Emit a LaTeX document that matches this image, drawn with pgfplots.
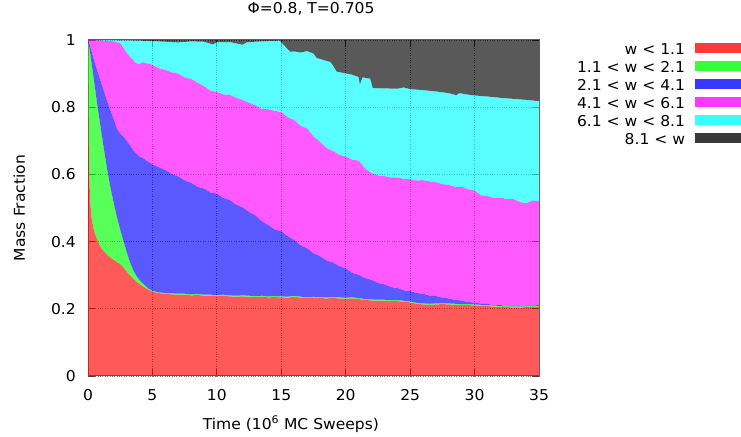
\documentclass[border=0pt]{standalone}
\usepackage{fontspec}
\setmainfont{DejaVu Sans}[FakeStretch=1.04]
\usepackage{pgfplots}
\pgfplotsset{compat=1.18}
\usepackage{pgfplotstable}
\usepgfplotslibrary{fillbetween}
\newcommand\fs{\fontsize{15}{18}\selectfont}
\definecolor{cRed}{RGB}{255,0,0}
\definecolor{cGreen}{RGB}{0,255,0}
\definecolor{cBlue}{RGB}{0,0,255}
\definecolor{cMag}{RGB}{255,0,255}
\definecolor{cCyan}{RGB}{0,255,255}
\definecolor{cGray}{RGB}{0,0,0}
\pgfplotsset{area legend/.style={legend image code/.code={\fill[##1, fill opacity=0.78] (0bp,-4bp) rectangle (46bp,6bp);}}}

% cumulative boundaries (top of each band)
\pgfplotstableread{
t y
0 1.000
0.03 0.80
0.06 0.68
0.1 0.60
0.15 0.54
0.2 0.505
0.3 0.465
0.4 0.445
0.5 0.428
0.75 0.402
1 0.382
1.25 0.370
1.5 0.360
1.75 0.352
2 0.346
2.25 0.339
2.5 0.333
2.75 0.323
3 0.311
3.25 0.300
3.5 0.290
3.75 0.281
4 0.273
4.25 0.267
4.5 0.261
4.75 0.256
5 0.251
5.5 0.247
6 0.244
6.5 0.243
7 0.242
7.5 0.242
8 0.240
8.5 0.241
9 0.239
9.5 0.239
10 0.238
10.5 0.239
11 0.237
11.5 0.236
12 0.237
12.5 0.236
13 0.235
13.5 0.236
14 0.234
14.5 0.235
15 0.234
15.5 0.233
16 0.236
16.5 0.233
17 0.232
17.5 0.233
18 0.232
18.5 0.231
19 0.232
19.5 0.231
20 0.230
20.5 0.231
21 0.229
21.5 0.226
22 0.225
22.5 0.224
23 0.224
23.5 0.223
24 0.223
24.5 0.221
25 0.219
25.5 0.215
26 0.213
26.5 0.212
27 0.213
27.5 0.214
28 0.213
28.5 0.212
29 0.211
29.5 0.211
30 0.210
30.5 0.209
31 0.208
31.5 0.207
32 0.205
32.5 0.205
33 0.204
33.5 0.204
34 0.205
34.5 0.205
35 0.206
}\Bone

\pgfplotstableread{
t y
0 1.000
0.05 0.990
0.1 0.978
0.2 0.952
0.35 0.912
0.5 0.870
0.75 0.800
1 0.735
1.25 0.672
1.5 0.612
1.75 0.560
2 0.515
2.25 0.472
2.5 0.436
2.75 0.402
3 0.370
3.25 0.340
3.5 0.316
3.75 0.299
4 0.286
4.25 0.276
4.5 0.267
4.75 0.259
5 0.254
5.5 0.249
6 0.247
6.5 0.246
7 0.245
7.5 0.245
8 0.243
8.5 0.244
9 0.242
9.5 0.242
10 0.241
10.5 0.242
11 0.240
11.5 0.239
12 0.240
12.5 0.239
13 0.238
13.5 0.239
14 0.237
14.5 0.238
15 0.237
15.5 0.236
16 0.239
16.5 0.236
17 0.235
17.5 0.236
18 0.235
18.5 0.234
19 0.235
19.5 0.234
20 0.233
20.5 0.234
21 0.232
21.5 0.229
22 0.228
22.5 0.227
23 0.227
23.5 0.226
24 0.226
24.5 0.224
25 0.222
25.5 0.218
26 0.216
26.5 0.215
27 0.216
27.5 0.217
28 0.216
28.5 0.215
29 0.214
29.5 0.214
30 0.213
30.5 0.212
31 0.211
31.5 0.210
32 0.208
32.5 0.208
33 0.207
33.5 0.207
34 0.208
34.5 0.208
35 0.209
}\Btwo

\pgfplotstableread{
t y
0 1.000
0.1 0.990
0.25 0.970
0.5 0.936
0.75 0.905
1 0.876
1.25 0.846
1.5 0.816
1.75 0.790
2 0.764
2.25 0.736
2.5 0.721
2.75 0.712
3 0.700
3.25 0.687
3.5 0.672
3.75 0.662
4 0.653
4.25 0.649
4.5 0.642
4.75 0.636
5 0.630
5.5 0.621
6 0.613
6.5 0.601
7 0.594
7.5 0.582
8 0.575
8.5 0.563
9 0.558
9.5 0.546
10 0.543
10.5 0.530
11 0.524
11.5 0.510
12 0.502
12.5 0.488
13 0.478
13.5 0.460
14 0.449
14.5 0.436
15 0.431
15.5 0.416
16 0.405
16.5 0.389
17 0.380
17.5 0.365
18 0.357
18.5 0.344
19 0.338
19.5 0.327
20 0.320
20.5 0.307
21 0.301
21.5 0.292
22 0.286
22.5 0.277
23 0.273
23.5 0.265
24 0.262
24.5 0.255
25 0.253
25.5 0.247
26 0.245
26.5 0.239
27 0.238
27.5 0.233
28 0.231
28.5 0.226
29 0.225
29.5 0.220
30 0.219
30.5 0.215
31 0.215
31.5 0.211
32 0.211
32.5 0.209
33 0.209
33.5 0.209
34 0.210
34.5 0.210
35 0.211
}\Bthree

\pgfplotstableread{
t y
0 1.000
1 0.999
2 0.996
2.5 0.990
2.75 0.977
3 0.962
3.25 0.951
3.5 0.941
3.75 0.931
4 0.929
4.25 0.934
4.5 0.931
4.75 0.930
5 0.926
5.5 0.916
6 0.911
6.5 0.904
7 0.900
7.5 0.889
8 0.884
8.5 0.873
9 0.863
9.5 0.849
10 0.846
10.5 0.838
11 0.837
11.5 0.828
12 0.822
12.5 0.813
13 0.806
13.5 0.794
14 0.794
14.5 0.789
15 0.786
15.5 0.770
16 0.762
16.5 0.744
17 0.737
17.5 0.713
18 0.697
18.5 0.679
19 0.670
19.5 0.658
20 0.653
20.5 0.644
21 0.641
21.5 0.618
22 0.604
22.5 0.597
23 0.595
23.5 0.591
24 0.591
24.5 0.587
25 0.586
25.5 0.582
26 0.583
26.5 0.579
27 0.577
27.5 0.571
28 0.569
28.5 0.563
29 0.563
29.5 0.556
30 0.552
30.5 0.538
31 0.536
31.5 0.530
32 0.531
32.5 0.527
33 0.527
33.5 0.518
34 0.514
34.5 0.523
35 0.520
}\Bfour

\pgfplotstableread{
t y
0 1.000
3 0.999
5 0.997
6 0.995
7 0.993
8 0.996
9 0.995
9.7 0.987
10 0.994
11 0.994
12 0.986
12.3 0.993
13 0.995
14 0.997
14.9 0.998
15.2 0.985
15.7 0.965
16 0.966
16.5 0.963
17 0.967
17.5 0.960
17.75 0.946
18 0.944
18.5 0.938
18.8 0.935
19 0.925
19.3 0.906
19.7 0.903
20.1 0.900
20.5 0.897
21 0.890
21.1 0.868
21.3 0.889
21.6 0.887
21.9 0.885
22.1 0.857
23 0.856
24 0.855
24.5 0.859
25 0.854
26 0.851
27 0.847
28 0.842
28.6 0.836
28.8 0.842
29.6 0.837
30 0.835
31 0.832
32 0.828
33 0.825
34 0.822
35 0.818
}\Bfive

\begin{document}
\begin{tikzpicture}
\begin{axis}[
  at={(88bp,61bp)}, anchor=south west,
  scale only axis, width=451bp, height=336bp,
  xmin=0, xmax=35, ymin=0, ymax=1,
  xtick={0,5,10,15,20,25,30,35},
  ytick={0,0.2,0.4,0.6,0.8,1},
  yticklabels={0,0.2,0.4,0.6,0.8,1},
  /pgf/number format/assume math mode=true,
  tick label style={font=\fs},
  xticklabel style={anchor=base, inner sep=0pt, yshift=-24bp},
  yticklabel style={anchor=east, inner sep=0pt, xshift=-12bp},
  major tick length=7bp,
  tick style={line width=0.9bp, black!75},
  axis line style={line width=1bp, black!60},
  grid=major,
  major grid style={dotted, line width=0.8bp, black!55},
  title={Φ=0.8, T=0.705},
  title style={font=\fs, at={(0.4945,1.0625)}, anchor=base, inner sep=0pt},
  xlabel={Time (10\textsuperscript{6} MC Sweeps)},
  xlabel style={font=\fs, at={(0.45,-0.158)}, anchor=base, inner sep=0pt},
  ylabel={Mass Fraction},
  ylabel style={font=\fs, at={(-0.1397,0.5)}, anchor=base, inner sep=0pt},
  legend cell align=right,
  legend plot pos=right,
  legend style={draw=none, fill=none, at={(1.4479,1)}, anchor=north east,
    inner sep=0pt, outer sep=0pt, font=\fs, row sep=0pt, column sep=10bp,
    nodes={inner sep=0pt, text height=15bp, text depth=3bp}},
]
\addplot[draw=none, name path=p0, forget plot] coordinates {(0,0) (35,0)};
\addplot[draw=none, name path=p1, forget plot] table[x=t, y=y] {\Bone};
\addplot[draw=none, name path=p2, forget plot] table[x=t, y=y] {\Btwo};
\addplot[draw=none, name path=p3, forget plot] table[x=t, y=y] {\Bthree};
\addplot[draw=none, name path=p4, forget plot] table[x=t, y=y] {\Bfour};
\addplot[draw=none, name path=p5, forget plot] table[x=t, y=y] {\Bfive};
\addplot[draw=none, name path=p6, forget plot] coordinates {(0,1) (35,1)};

\addplot[fill=cRed, fill opacity=0.65, draw=none] fill between[of=p0 and p1];
\addlegendentry{w < 1.1}
\addplot[fill=cGreen, fill opacity=0.65, draw=none] fill between[of=p1 and p2];
\addlegendentry{1.1 < w < 2.1}
\addplot[fill=cBlue, fill opacity=0.65, draw=none] fill between[of=p2 and p3];
\addlegendentry{2.1 < w < 4.1}
\addplot[fill=cMag, fill opacity=0.65, draw=none] fill between[of=p3 and p4];
\addlegendentry{4.1 < w < 6.1}
\addplot[fill=cCyan, fill opacity=0.65, draw=none] fill between[of=p4 and p5];
\addlegendentry{6.1 < w < 8.1}
\addplot[fill=cGray, fill opacity=0.65, draw=none] fill between[of=p5 and p6];
\addlegendentry{8.1 < w}
\end{axis}
\pgfresetboundingbox
\path[use as bounding box] (0,0) rectangle (741bp,437bp);
\end{tikzpicture}
\end{document}
